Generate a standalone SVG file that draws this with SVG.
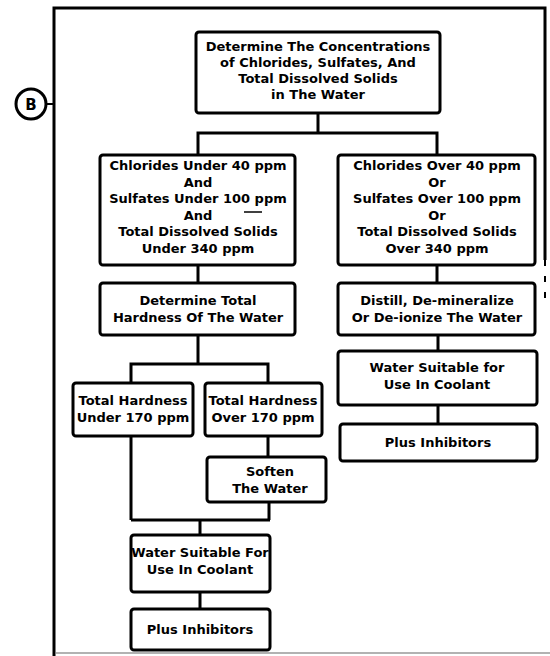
<svg xmlns="http://www.w3.org/2000/svg" width="550" height="656" viewBox="0 0 550 656">
<style>
.bx{fill:#fff;stroke:#000;stroke-width:3}
.ln{fill:none;stroke:#000;stroke-width:3}
text{font-family:"DejaVu Sans","Liberation Sans",sans-serif;font-weight:bold;font-size:13px;fill:#000;text-anchor:middle}
</style>
<rect width="550" height="656" fill="#fff"/>
<g id="frame">
<path d="M54,656 V8 H545 V260" class="ln"/>
<path d="M545,260 V300" fill="none" stroke="#000" stroke-width="2" stroke-dasharray="6,10"/>
<path d="M56,653 H550" fill="none" stroke="#999" stroke-width="1.5"/>
</g>
<g id="label-B">
<circle cx="31" cy="104" r="15" fill="#fff" stroke="#000" stroke-width="3"/>
<line x1="46" y1="104" x2="54" y2="104" stroke="#000" stroke-width="2"/>
<text x="31" y="109.5" style="font-size:15px">B</text>
</g>
<g id="connectors">
<path class="ln" d="M318,113 V133 M198,155 V133 H437 V155"/>
<path class="ln" d="M198,265 V283 M437,265 V283"/>
<path class="ln" d="M198,335 V364 M131,383 V364 H268 V383"/>
<path class="ln" d="M131,436 V520 M268,436 V457 M269,502 V520 M131,520 H270 M200,520 V535 M200,592 V609"/>
<path class="ln" d="M438,335 V351 M438,405 V424"/>
</g>
<g id="n-determine">
<rect class="bx" x="196" y="32" width="244" height="81" rx="3"/>
<text x="318" y="51">Determine The Concentrations</text>
<text x="318" y="67">of Chlorides, Sulfates, And</text>
<text x="318" y="83">Total Dissolved Solids</text>
<text x="318" y="99">in The Water</text>
</g>
<g id="n-under">
<rect class="bx" x="100" y="155" width="195" height="110" rx="3"/>
<text x="198" y="170">Chlorides Under 40 ppm</text>
<text x="198" y="186.5">And</text>
<text x="198" y="203">Sulfates Under 100 ppm</text>
<text x="198" y="219.5">And</text>
<text x="198" y="236">Total Dissolved Solids</text>
<text x="198" y="252.5">Under 340 ppm</text>
<line x1="244" y1="212" x2="262" y2="212" stroke="#000" stroke-width="1.5"/>
</g>
<g id="n-over">
<rect class="bx" x="338" y="155" width="197" height="110" rx="3"/>
<text x="437" y="170">Chlorides Over 40 ppm</text>
<text x="437" y="186.5">Or</text>
<text x="437" y="203">Sulfates Over 100 ppm</text>
<text x="437" y="219.5">Or</text>
<text x="437" y="236">Total Dissolved Solids</text>
<text x="437" y="252.5">Over 340 ppm</text>
</g>
<g id="n-hardness">
<rect class="bx" x="100" y="283" width="195" height="52" rx="3"/>
<text x="198" y="305">Determine Total</text>
<text x="198" y="322">Hardness Of The Water</text>
</g>
<g id="n-distill">
<rect class="bx" x="338" y="283" width="197" height="52" rx="3"/>
<text x="437" y="305">Distill, De-mineralize</text>
<text x="437" y="322">Or De-ionize The Water</text>
</g>
<g id="n-suitable-right">
<rect class="bx" x="338" y="351" width="199" height="54" rx="3"/>
<text x="437" y="372">Water Suitable for</text>
<text x="437" y="389">Use In Coolant</text>
</g>
<g id="n-plus-right">
<rect class="bx" x="340" y="424" width="197" height="37" rx="3"/>
<text x="438" y="447">Plus Inhibitors</text>
</g>
<g id="n-th-under">
<rect class="bx" x="73" y="383" width="120" height="53" rx="3"/>
<text x="133" y="405">Total Hardness</text>
<text x="133" y="422">Under 170 ppm</text>
</g>
<g id="n-th-over">
<rect class="bx" x="205" y="383" width="117" height="53" rx="3"/>
<text x="263" y="405">Total Hardness</text>
<text x="263" y="422">Over 170 ppm</text>
</g>
<g id="n-soften">
<rect class="bx" x="207" y="457" width="119" height="45" rx="3"/>
<text x="270" y="476">Soften</text>
<text x="270" y="493">The Water</text>
</g>
<g id="n-suitable-left">
<rect class="bx" x="131" y="535" width="139" height="57" rx="3"/>
<text x="200" y="557">Water Suitable For</text>
<text x="200" y="574">Use In Coolant</text>
</g>
<g id="n-plus-left">
<rect class="bx" x="131" y="609" width="139" height="41" rx="3"/>
<text x="200" y="634">Plus Inhibitors</text>
</g>
</svg>
